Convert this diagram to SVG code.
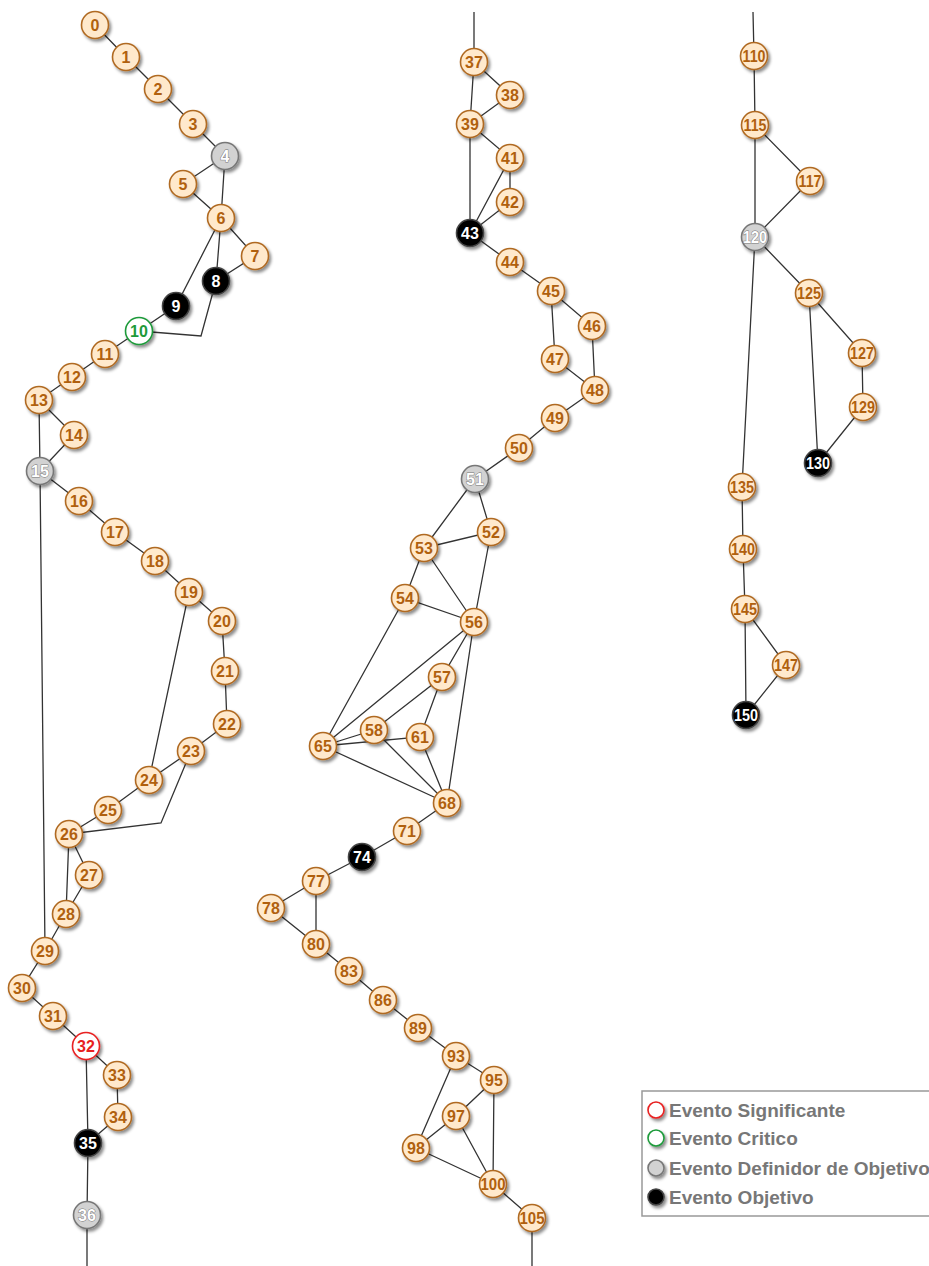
<svg xmlns="http://www.w3.org/2000/svg" width="929" height="1266" viewBox="0 0 929 1266">
<defs>
<filter id="sh" x="-50%" y="-50%" width="200%" height="200%">
<feDropShadow dx="2" dy="2.5" stdDeviation="1.6" flood-color="#000" flood-opacity="0.45"/>
</filter>
</defs>
<style>
.e{stroke:#333;stroke-width:1.3;fill:none}
circle{stroke-width:1.6;filter:url(#sh)}
.n circle{fill:#FFE9CC;stroke:#B06A22}
.n text{fill:#B0600E}
.g circle{fill:#D2D2D2;stroke:#777}
.g text{fill:#fff;stroke:#777;stroke-width:0.9;paint-order:stroke}
.b circle{fill:#000;stroke:#444}
.b text{fill:#fff}
.c circle{fill:#fff;stroke:#1E9A3A}
.c text{fill:#1E9A3A}
.s circle{fill:#fff;stroke:#E82020}
.s text{fill:#E82020}
text{font-family:"Liberation Sans",Arial,sans-serif;font-weight:bold;font-size:16px;text-anchor:middle}
.t3{font-size:16px}
.lg text{font-size:19px;fill:#777;text-anchor:start}
</style>
<rect width="929" height="1266" fill="#fff"/>
<g id="edges">
<path class="e" d="M95,25L126,57L158,89L193,124L225,156M225,156L183,184L221,218M225,156L221,218M221,218L255,256L216,281M221,218L216,281M221,218L176,306L139,331M216,281L201,336L139,331M139,331L105,354L72,377L39,400L74,435L40,471M39,400L40,471M40,471L79,501L115,532L155,561L189,592L222,621L225,671L227,724L191,751L149,780L108,810L69,834M189,592L149,780M191,751L161,823L69,834M40,471L45,951M69,834L89,875L66,914L45,951M69,834L66,914M45,951L22,988L53,1016L86,1046L117,1075L118,1117L88,1143M86,1046L88,1143M88,1143L87,1215L87,1266"/>
<path class="e" d="M474,12L474,62L510,95L470,124M474,62L470,124M470,124L510,158L510,202L470,233M510,158L470,233M470,124L470,233M470,233L510,262L551,291L592,326L595,390M551,291L555,359L595,390M595,390L555,418L519,448L475,479L491,532L424,548M475,479L424,548M424,548L405,598L474,622M424,548L474,622M491,532L474,622M405,598L323,746M474,622L323,746M474,622L442,677L374,730L323,746M442,677L420,737L323,746M474,622L447,803M374,730L447,803M420,737L447,803M323,746L447,803M447,803L407,831L362,857L316,881L271,908L316,944M316,881L316,944M316,944L349,971L383,1000L418,1028L456,1056L494,1080L456,1116L416,1148M456,1056L416,1148M494,1080L493,1184M456,1116L493,1184M416,1148L493,1184M493,1184L532,1218L532,1266"/>
<path class="e" d="M753,12L754,56L755,125L810,181L755,237M755,125L755,237M755,237L809,293L862,353L863,407L818,463M809,293L818,463M755,237L742,487L743,549L745,609L786,665L746,715M745,609L746,715"/>
</g>
<g id="node0" class="n"><circle cx="95" cy="25" r="13.5"/><text x="95" y="30.5">0</text></g>
<g id="node1" class="n"><circle cx="126" cy="57" r="13.5"/><text x="126" y="62.5">1</text></g>
<g id="node2" class="n"><circle cx="158" cy="89" r="13.5"/><text x="158" y="94.5">2</text></g>
<g id="node3" class="n"><circle cx="193" cy="124" r="13.5"/><text x="193" y="129.5">3</text></g>
<g id="node4" class="g"><circle cx="225" cy="156" r="13.5"/><text x="225" y="161.5">4</text></g>
<g id="node5" class="n"><circle cx="183" cy="184" r="13.5"/><text x="183" y="189.5">5</text></g>
<g id="node6" class="n"><circle cx="221" cy="218" r="13.5"/><text x="221" y="223.5">6</text></g>
<g id="node7" class="n"><circle cx="255" cy="256" r="13.5"/><text x="255" y="261.5">7</text></g>
<g id="node8" class="b"><circle cx="216" cy="281" r="13.5"/><text x="216" y="286.5">8</text></g>
<g id="node9" class="b"><circle cx="176" cy="306" r="13.5"/><text x="176" y="311.5">9</text></g>
<g id="node10" class="c"><circle cx="139" cy="331" r="13.5"/><text x="139" y="336.5">10</text></g>
<g id="node11" class="n"><circle cx="105" cy="354" r="13.5"/><text x="105" y="359.5">11</text></g>
<g id="node12" class="n"><circle cx="72" cy="377" r="13.5"/><text x="72" y="382.5">12</text></g>
<g id="node13" class="n"><circle cx="39" cy="400" r="13.5"/><text x="39" y="405.5">13</text></g>
<g id="node14" class="n"><circle cx="74" cy="435" r="13.5"/><text x="74" y="440.5">14</text></g>
<g id="node15" class="g"><circle cx="40" cy="471" r="13.5"/><text x="40" y="476.5">15</text></g>
<g id="node16" class="n"><circle cx="79" cy="501" r="13.5"/><text x="79" y="506.5">16</text></g>
<g id="node17" class="n"><circle cx="115" cy="532" r="13.5"/><text x="115" y="537.5">17</text></g>
<g id="node18" class="n"><circle cx="155" cy="561" r="13.5"/><text x="155" y="566.5">18</text></g>
<g id="node19" class="n"><circle cx="189" cy="592" r="13.5"/><text x="189" y="597.5">19</text></g>
<g id="node20" class="n"><circle cx="222" cy="621" r="13.5"/><text x="222" y="626.5">20</text></g>
<g id="node21" class="n"><circle cx="225" cy="671" r="13.5"/><text x="225" y="676.5">21</text></g>
<g id="node22" class="n"><circle cx="227" cy="724" r="13.5"/><text x="227" y="729.5">22</text></g>
<g id="node23" class="n"><circle cx="191" cy="751" r="13.5"/><text x="191" y="756.5">23</text></g>
<g id="node24" class="n"><circle cx="149" cy="780" r="13.5"/><text x="149" y="785.5">24</text></g>
<g id="node25" class="n"><circle cx="108" cy="810" r="13.5"/><text x="108" y="815.5">25</text></g>
<g id="node26" class="n"><circle cx="69" cy="834" r="13.5"/><text x="69" y="839.5">26</text></g>
<g id="node27" class="n"><circle cx="89" cy="875" r="13.5"/><text x="89" y="880.5">27</text></g>
<g id="node28" class="n"><circle cx="66" cy="914" r="13.5"/><text x="66" y="919.5">28</text></g>
<g id="node29" class="n"><circle cx="45" cy="951" r="13.5"/><text x="45" y="956.5">29</text></g>
<g id="node30" class="n"><circle cx="22" cy="988" r="13.5"/><text x="22" y="993.5">30</text></g>
<g id="node31" class="n"><circle cx="53" cy="1016" r="13.5"/><text x="53" y="1021.5">31</text></g>
<g id="node32" class="s"><circle cx="86" cy="1046" r="13.5"/><text x="86" y="1051.5">32</text></g>
<g id="node33" class="n"><circle cx="117" cy="1075" r="13.5"/><text x="117" y="1080.5">33</text></g>
<g id="node34" class="n"><circle cx="118" cy="1117" r="13.5"/><text x="118" y="1122.5">34</text></g>
<g id="node35" class="b"><circle cx="88" cy="1143" r="13.5"/><text x="88" y="1148.5">35</text></g>
<g id="node36" class="g"><circle cx="87" cy="1215" r="13.5"/><text x="87" y="1220.5">36</text></g>
<g id="node37" class="n"><circle cx="474" cy="62" r="13.5"/><text x="474" y="67.5">37</text></g>
<g id="node38" class="n"><circle cx="510" cy="95" r="13.5"/><text x="510" y="100.5">38</text></g>
<g id="node39" class="n"><circle cx="470" cy="124" r="13.5"/><text x="470" y="129.5">39</text></g>
<g id="node41" class="n"><circle cx="510" cy="158" r="13.5"/><text x="510" y="163.5">41</text></g>
<g id="node42" class="n"><circle cx="510" cy="202" r="13.5"/><text x="510" y="207.5">42</text></g>
<g id="node43" class="b"><circle cx="470" cy="233" r="13.5"/><text x="470" y="238.5">43</text></g>
<g id="node44" class="n"><circle cx="510" cy="262" r="13.5"/><text x="510" y="267.5">44</text></g>
<g id="node45" class="n"><circle cx="551" cy="291" r="13.5"/><text x="551" y="296.5">45</text></g>
<g id="node46" class="n"><circle cx="592" cy="326" r="13.5"/><text x="592" y="331.5">46</text></g>
<g id="node47" class="n"><circle cx="555" cy="359" r="13.5"/><text x="555" y="364.5">47</text></g>
<g id="node48" class="n"><circle cx="595" cy="390" r="13.5"/><text x="595" y="395.5">48</text></g>
<g id="node49" class="n"><circle cx="555" cy="418" r="13.5"/><text x="555" y="423.5">49</text></g>
<g id="node50" class="n"><circle cx="519" cy="448" r="13.5"/><text x="519" y="453.5">50</text></g>
<g id="node51" class="g"><circle cx="475" cy="479" r="13.5"/><text x="475" y="484.5">51</text></g>
<g id="node52" class="n"><circle cx="491" cy="532" r="13.5"/><text x="491" y="537.5">52</text></g>
<g id="node53" class="n"><circle cx="424" cy="548" r="13.5"/><text x="424" y="553.5">53</text></g>
<g id="node54" class="n"><circle cx="405" cy="598" r="13.5"/><text x="405" y="603.5">54</text></g>
<g id="node56" class="n"><circle cx="474" cy="622" r="13.5"/><text x="474" y="627.5">56</text></g>
<g id="node57" class="n"><circle cx="442" cy="677" r="13.5"/><text x="442" y="682.5">57</text></g>
<g id="node58" class="n"><circle cx="374" cy="730" r="13.5"/><text x="374" y="735.5">58</text></g>
<g id="node61" class="n"><circle cx="420" cy="737" r="13.5"/><text x="420" y="742.5">61</text></g>
<g id="node65" class="n"><circle cx="323" cy="746" r="13.5"/><text x="323" y="751.5">65</text></g>
<g id="node68" class="n"><circle cx="447" cy="803" r="13.5"/><text x="447" y="808.5">68</text></g>
<g id="node71" class="n"><circle cx="407" cy="831" r="13.5"/><text x="407" y="836.5">71</text></g>
<g id="node74" class="b"><circle cx="362" cy="857" r="13.5"/><text x="362" y="862.5">74</text></g>
<g id="node77" class="n"><circle cx="316" cy="881" r="13.5"/><text x="316" y="886.5">77</text></g>
<g id="node78" class="n"><circle cx="271" cy="908" r="13.5"/><text x="271" y="913.5">78</text></g>
<g id="node80" class="n"><circle cx="316" cy="944" r="13.5"/><text x="316" y="949.5">80</text></g>
<g id="node83" class="n"><circle cx="349" cy="971" r="13.5"/><text x="349" y="976.5">83</text></g>
<g id="node86" class="n"><circle cx="383" cy="1000" r="13.5"/><text x="383" y="1005.5">86</text></g>
<g id="node89" class="n"><circle cx="418" cy="1028" r="13.5"/><text x="418" y="1033.5">89</text></g>
<g id="node93" class="n"><circle cx="456" cy="1056" r="13.5"/><text x="456" y="1061.5">93</text></g>
<g id="node95" class="n"><circle cx="494" cy="1080" r="13.5"/><text x="494" y="1085.5">95</text></g>
<g id="node97" class="n"><circle cx="456" cy="1116" r="13.5"/><text x="456" y="1121.5">97</text></g>
<g id="node98" class="n"><circle cx="416" cy="1148" r="13.5"/><text x="416" y="1153.5">98</text></g>
<g id="node100" class="n"><circle cx="493" cy="1184" r="13.5"/><text class="t3" x="493" y="1189.5" textLength="25" lengthAdjust="spacingAndGlyphs">100</text></g>
<g id="node105" class="n"><circle cx="532" cy="1218" r="13.5"/><text class="t3" x="532" y="1223.5" textLength="25" lengthAdjust="spacingAndGlyphs">105</text></g>
<g id="node110" class="n"><circle cx="754" cy="56" r="13.5"/><text class="t3" x="754" y="61.5" textLength="23" lengthAdjust="spacingAndGlyphs">110</text></g>
<g id="node115" class="n"><circle cx="755" cy="125" r="13.5"/><text class="t3" x="755" y="130.5" textLength="23" lengthAdjust="spacingAndGlyphs">115</text></g>
<g id="node117" class="n"><circle cx="810" cy="181" r="13.5"/><text class="t3" x="810" y="186.5" textLength="23" lengthAdjust="spacingAndGlyphs">117</text></g>
<g id="node120" class="g"><circle cx="755" cy="237" r="13.5"/><text class="t3" x="755" y="242.5" textLength="24" lengthAdjust="spacingAndGlyphs">120</text></g>
<g id="node125" class="n"><circle cx="809" cy="293" r="13.5"/><text class="t3" x="809" y="298.5" textLength="24" lengthAdjust="spacingAndGlyphs">125</text></g>
<g id="node127" class="n"><circle cx="862" cy="353" r="13.5"/><text class="t3" x="862" y="358.5" textLength="24" lengthAdjust="spacingAndGlyphs">127</text></g>
<g id="node129" class="n"><circle cx="863" cy="407" r="13.5"/><text class="t3" x="863" y="412.5" textLength="24" lengthAdjust="spacingAndGlyphs">129</text></g>
<g id="node130" class="b"><circle cx="818" cy="463" r="13.5"/><text class="t3" x="818" y="468.5" textLength="24" lengthAdjust="spacingAndGlyphs">130</text></g>
<g id="node135" class="n"><circle cx="742" cy="487" r="13.5"/><text class="t3" x="742" y="492.5" textLength="24" lengthAdjust="spacingAndGlyphs">135</text></g>
<g id="node140" class="n"><circle cx="743" cy="549" r="13.5"/><text class="t3" x="743" y="554.5" textLength="24" lengthAdjust="spacingAndGlyphs">140</text></g>
<g id="node145" class="n"><circle cx="745" cy="609" r="13.5"/><text class="t3" x="745" y="614.5" textLength="24" lengthAdjust="spacingAndGlyphs">145</text></g>
<g id="node147" class="n"><circle cx="786" cy="665" r="13.5"/><text class="t3" x="786" y="670.5" textLength="24" lengthAdjust="spacingAndGlyphs">147</text></g>
<g id="node150" class="b"><circle cx="746" cy="715" r="13.5"/><text class="t3" x="746" y="720.5" textLength="24" lengthAdjust="spacingAndGlyphs">150</text></g>
<g id="legend" class="lg">
<rect x="642" y="1091" width="300" height="125" fill="#fff" stroke="#999" stroke-width="1.5"/>
<g class="s"><circle cx="656" cy="1110" r="8"/></g>
<text x="669" y="1117">Evento Significante</text>
<g class="c"><circle cx="656" cy="1138" r="8"/></g>
<text x="669" y="1145">Evento Critico</text>
<g class="g"><circle cx="656" cy="1168" r="8"/></g>
<text x="669" y="1175">Evento Definidor de Objetivo</text>
<g class="b"><circle cx="656" cy="1197" r="8"/></g>
<text x="669" y="1204">Evento Objetivo</text>
</g>
</svg>
